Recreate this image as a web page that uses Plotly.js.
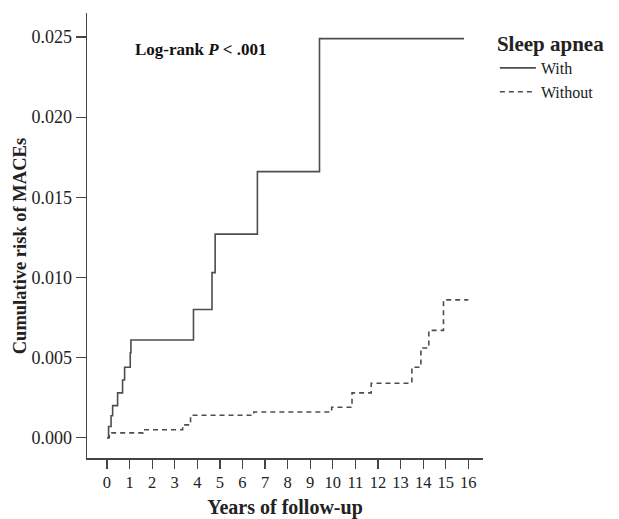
<!DOCTYPE html>
<html>
<head>
<meta charset="utf-8">
<script src="https://cdn.plot.ly/plotly-3.0.1.min.js"></script>
<style>html,body{margin:0;padding:0;background:#fff;}#chart{width:619px;height:519px;}</style>
</head>
<body>
<div id="chart"></div>
<script>
// "With" sleep apnea: step times (years) and cumulative risk
const withYears = [0, 0.07, 0.18, 0.25, 0.47, 0.69, 0.78, 1.03, 1.06, 3.83, 4.65, 4.79, 6.66, 9.41, 15.81];
const withRisk  = [0, 0.0007, 0.00137, 0.0020, 0.0028, 0.0036, 0.0044, 0.0053, 0.0061, 0.0080, 0.0103, 0.0127, 0.0166, 0.0249, 0.0249];
// "Without" sleep apnea
const withoutYears = [0, 0.1, 1.6, 3.35, 3.7, 6.5, 9.95, 10.85, 11.7, 13.5, 13.9, 14.25, 14.9, 16.0];
const withoutRisk  = [0, 0.0003, 0.0005, 0.0008, 0.0014, 0.0016, 0.0019, 0.0028, 0.0034, 0.0044, 0.0056, 0.0067, 0.0086, 0.0086];
const xTicks = [0,1,2,3,4,5,6,7,8,9,10,11,12,13,14,15,16];
const yTicks = [0, 0.005, 0.010, 0.015, 0.020, 0.025];
const yTickText = ["0.000","0.005","0.010","0.015","0.020","0.025"];

const serif = "Liberation Serif, Times New Roman, serif";

const traces = [
  {x: withYears, y: withRisk, name: "With", mode: "lines",
   line: {shape: "hv", color: "#4d4d4d", width: 1.6}},
  {x: withoutYears, y: withoutRisk, name: "Without", mode: "lines",
   line: {shape: "hv", color: "#4d4d4d", width: 1.6, dash: "5px,4px"}}
];

const layout = {
  width: 619, height: 519,
  margin: {l: 87, r: 136, t: 13, b: 61},
  paper_bgcolor: "#fff", plot_bgcolor: "#fff",
  font: {family: serif, color: "#222", size: 14},
  showlegend: true,
  legend: {
    x: 1.03, xanchor: "left", y: 0.976, yanchor: "top",
    title: {text: "<b>Sleep apnea</b>", font: {size: 21, family: serif, color: "#222"}, side: "top"},
    font: {size: 16, family: serif, color: "#222"},
    itemwidth: 36, tracegroupgap: 0, bgcolor: "rgba(0,0,0,0)"
  },
  xaxis: {
    range: [-0.885, 16.65], tickvals: xTicks, ticktext: xTicks.map(String),
    showgrid: false, zeroline: false, showline: true, linecolor: "#444", linewidth: 1.5,
    ticks: "outside", ticklen: 9, tickwidth: 1.2, tickcolor: "#444",
    tickfont: {size: 16.5, family: serif, color: "#222"},
    title: {text: "<b>Years of follow-up</b>", font: {size: 20, family: serif, color: "#222"}, standoff: 8},
    automargin: false, fixedrange: true
  },
  yaxis: {
    range: [-0.001266, 0.0265], tickvals: yTicks, ticktext: yTickText,
    showgrid: false, zeroline: false, showline: true, linecolor: "#444", linewidth: 1.5,
    ticks: "outside", ticklen: 10, tickwidth: 1.2, tickcolor: "#444",
    tickfont: {size: 18, family: serif, color: "#222"},
    automargin: false, fixedrange: true
  },
  annotations: [
    {xref: "paper", yref: "paper", x: 0.116, y: 0.917, xanchor: "left", yanchor: "middle",
     text: "<b>Log-rank <i>P</i> < .001</b>", showarrow: false,
     font: {size: 17, family: serif, color: "#111"}},
    {xref: "paper", yref: "paper", x: -0.169, y: 0.476, xanchor: "center", yanchor: "middle",
     textangle: -90, text: "<b>Cumulative risk of MACEs</b>", showarrow: false,
     font: {size: 18.5, family: serif, color: "#222"}}
  ]
};

Plotly.newPlot("chart", traces, layout, {displayModeBar: false, staticPlot: true});
</script>
</body>
</html>
